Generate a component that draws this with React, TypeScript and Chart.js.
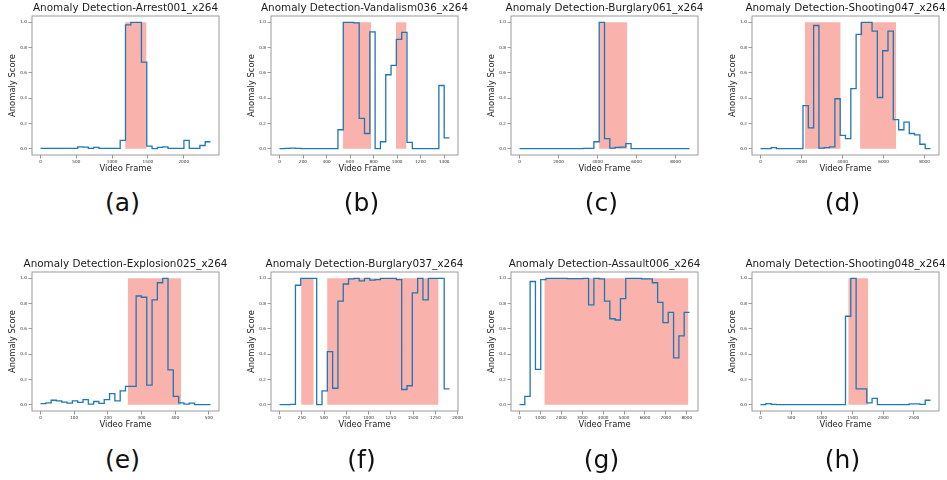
import React, { useEffect, useRef } from 'react';
import { Chart, registerables } from 'chart.js';

Chart.register(...registerables);
Chart.defaults.font.family = "'DejaVu Sans', sans-serif";

// ---- data ----
const titles = [
  'Anomaly Detection-Arrest001_x264',
  'Anomaly Detection-Vandalism036_x264',
  'Anomaly Detection-Burglary061_x264',
  'Anomaly Detection-Shooting047_x264',
  'Anomaly Detection-Explosion025_x264',
  'Anomaly Detection-Burglary037_x264',
  'Anomaly Detection-Assault006_x264',
  'Anomaly Detection-Shooting048_x264',
];
const panelLabels = ['(a)', '(b)', '(c)', '(d)', '(e)', '(f)', '(g)', '(h)'];
const frameCounts = [2374, 1445, 8720, 8290, 505, 1910, 8130, 2770];

// 32 segment scores per video
const scoresArrest001 = [0.002, 0.002, 0.002, 0.002, 0.002, 0.002, 0.003, 0.015, 0.012, 0.003, 0.01, 0.003, 0.002, 0.002, 0.002, 0.065, 0.98, 1.0, 1.0, 0.685, 0.02, 0.0, 0.01, 0.015, 0.002, 0.002, 0.002, 0.065, 0.002, 0.002, 0.025, 0.055];
const scoresVandalism036 = [0.0, 0.002, 0.004, 0.002, 0.0, 0.0, 0.0, 0.0, 0.0, 0.0, 0.0, 0.15, 1.0, 1.0, 0.995, 0.24, 0.12, 0.925, 0.0, 0.055, 0.585, 0.66, 0.865, 0.92, 0.05, 0.0, 0.0, 0.0, 0.0, 0.0, 0.5, 0.085];
const scoresBurglary061 = [0, 0, 0, 0, 0, 0, 0, 0, 0, 0, 0, 0, 0.002, 0.002, 0.055, 1.0, 0.08, 0.005, 0.01, 0.012, 0.04, 0, 0, 0, 0, 0, 0, 0, 0, 0, 0, 0];
const scoresShooting047 = [0.0, 0.0, 0.008, 0.0, 0.0, 0.0, 0.0, 0.0, 0.34, 0.165, 0.975, 0.005, 0.008, 0.015, 0.395, 0.105, 0.08, 0.475, 0.905, 1.0, 1.0, 0.93, 0.405, 0.775, 0.93, 0.23, 0.15, 0.21, 0.12, 0.11, 0.035, 0.0];
const scoresExplosion025 = [0.008, 0.015, 0.035, 0.03, 0.02, 0.012, 0.03, 0.018, 0.04, 0.005, 0.025, 0.01, 0.04, 0.088, 0.03, 0.11, 0.145, 0.145, 0.86, 0.85, 0.155, 0.83, 0.965, 1.0, 0.275, 0.065, 0.015, 0.005, 0.012, 0.0, 0.0, 0.0];
const scoresBurglary037 = [0.0, 0.0, 0.002, 0.945, 1.0, 1.0, 1.0, 0.0, 0.11, 0.42, 0.13, 0.82, 0.955, 0.995, 1.0, 0.98, 1.0, 0.985, 0.99, 1.0, 1.0, 1.0, 0.99, 0.12, 0.15, 0.885, 1.0, 0.83, 1.0, 1.0, 1.0, 0.125];
const scoresAssault006 = [0.0, 0.065, 0.975, 0.28, 0.99, 1.0, 1.0, 1.0, 1.0, 0.998, 0.998, 0.998, 1.0, 0.79, 1.0, 0.995, 0.82, 0.68, 0.67, 0.84, 1.0, 1.0, 1.0, 0.995, 0.995, 0.965, 0.81, 0.65, 0.73, 0.37, 0.545, 0.73];
const scoresShooting048 = [0.0, 0.008, 0.002, 0, 0, 0, 0, 0, 0, 0, 0, 0, 0, 0, 0, 0, 0.7, 1.0, 0.125, 0.125, 0.015, 0.05, 0.0, 0.0, 0.0, 0.0, 0.0, 0.0, 0.006, 0.006, 0.002, 0.035];

// ground-truth anomaly intervals (frames)
const spansArrest001 = [[1182, 1481]];
const spansVandalism036 = [[540, 778], [990, 1080]];
const spansBurglary061 = [[4085, 5532]];
const spansShooting047 = [[2167, 3910], [4855, 6615]];
const spansExplosion025 = [[259, 418]];
const spansBurglary037 = [[243, 385], [535, 1787]];
const spansAssault006 = [[1188, 8079]];
const spansShooting048 = [[1430, 1755]];

// tick labels
const xTicksArrest001 = [0, 500, 1000, 1500, 2000];
const xTicksVandalism036 = [0, 200, 400, 600, 800, 1000, 1200, 1400];
const xTicksBurglary061 = [0, 2000, 4000, 6000, 8000];
const xTicksShooting047 = [0, 2000, 4000, 6000, 8000];
const xTicksExplosion025 = [0, 100, 200, 300, 400, 500];
const xTicksBurglary037 = [0, 250, 500, 750, 1000, 1250, 1500, 1750, 2000];
const xTicksAssault006 = [0, 1000, 2000, 3000, 4000, 5000, 6000, 7000, 8000];
const xTicksShooting048 = [0, 500, 1000, 1500, 2000, 2500];
const yTicks = [0, 0.2, 0.4, 0.6, 0.8, 1.0];

const allScores = [scoresArrest001, scoresVandalism036, scoresBurglary061, scoresShooting047, scoresExplosion025, scoresBurglary037, scoresAssault006, scoresShooting048];
const allSpans = [spansArrest001, spansVandalism036, spansBurglary061, spansShooting047, spansExplosion025, spansBurglary037, spansAssault006, spansShooting048];
const allXTicks = [xTicksArrest001, xTicksVandalism036, xTicksBurglary061, xTicksShooting047, xTicksExplosion025, xTicksBurglary037, xTicksAssault006, xTicksShooting048];

// ---- layout ----
const COL_LEFT = [32, 271, 511, 752];
const ROW_TOP = [16, 272];
const FRAME_W = 187;
const Y_AXIS_W = 32;
const TITLE_H = 16;
const X_AXIS_H = 19;
const RIGHT_PAD = 30;
const CANVAS_W = Y_AXIS_W + FRAME_W + RIGHT_PAD;
const CANVAS_H = 174;
const LABEL_Y = [203, 460];
const TITLE_HALF_W = 120;

const LINE_COLOR = '#1f77b4';
const SPAN_COLOR = '#f9b2ac';
const AXIS_COLOR = '#9a9a9a';

const framePlugin = {
  id: 'frameBox',
  afterLayout(chart: any) {
    // centre the title over the plot frame and let it be wider than the frame
    const tb = chart.titleBlock;
    const ca = chart.chartArea;
    if (tb && ca) {
      const cx = (ca.left + ca.right) / 2;
      tb.left = cx - TITLE_HALF_W;
      tb.right = cx + TITLE_HALF_W;
      tb.width = TITLE_HALF_W * 2;
    }
  },
  afterDatasetsDraw(chart: any) {
    const { ctx, chartArea } = chart;
    ctx.save();
    ctx.strokeStyle = AXIS_COLOR;
    ctx.lineWidth = 1;
    ctx.strokeRect(chartArea.left, chartArea.top, chartArea.right - chartArea.left, chartArea.bottom - chartArea.top);
    ctx.restore();
  },
};

function Panel({ idx }: { idx: number }) {
  const ref = useRef<HTMLCanvasElement | null>(null);
  const col = idx % 4;
  const row = Math.floor(idx / 4);
  useEffect(() => {
    if (!ref.current) return;
    const n = frameCounts[idx];
    const scores = allScores[idx];
    const seg = n / scores.length;
    const points = scores.map((v, i) => ({ x: i * seg, y: v }));
    points.push({ x: n, y: scores[scores.length - 1] });
    const xTicks = allXTicks[idx];
    const datasets: any[] = [
      {
        data: points,
        borderColor: LINE_COLOR,
        borderWidth: 1.3,
        stepped: true,
        pointRadius: 0,
        fill: false,
        order: 0,
      },
      ...allSpans[idx].map(([s, e]) => ({
        data: [{ x: s, y: 1 }, { x: e, y: 1 }],
        borderWidth: 0,
        borderColor: 'rgba(0,0,0,0)',
        backgroundColor: SPAN_COLOR,
        fill: 'origin',
        pointRadius: 0,
        order: 1,
      })),
    ];
    const chart = new Chart(ref.current, {
      type: 'line',
      data: { datasets },
      options: {
        animation: false,
        responsive: false,
        events: [],
        layout: { padding: { left: 0, right: RIGHT_PAD, top: 0, bottom: 0 } },
        plugins: {
          legend: { display: false },
          tooltip: { enabled: false },
          title: {
            display: true,
            text: titles[idx],
            fullSize: false,
            color: '#1a1a1a',
            font: { size: 10.4, weight: 'normal', lineHeight: 1.2 },
            padding: { top: 2.5, bottom: 1.02 },
          },
        },
        scales: {
          x: {
            type: 'linear',
            min: -0.05 * n,
            max: 1.05 * n,
            afterBuildTicks: (s: any) => {
              s.ticks = xTicks.map((v) => ({ value: v }));
            },
            afterFit: (s: any) => {
              s.height = X_AXIS_H;
            },
            ticks: {
              autoSkip: false,
              maxRotation: 0,
              padding: 1,
              color: '#333',
              font: { size: 4.2 },
              callback: (v: any) => String(v),
            },
            grid: { drawOnChartArea: false, drawTicks: true, tickLength: 3.5, color: AXIS_COLOR },
            border: { display: false },
            title: {
              display: true,
              text: 'Video Frame',
              color: '#1a1a1a',
              font: { size: 8.4 },
              padding: { top: 0, bottom: 0 },
            },
          },
          y: {
            type: 'linear',
            min: -0.05,
            max: 1.05,
            afterBuildTicks: (s: any) => {
              s.ticks = yTicks.map((v) => ({ value: v }));
            },
            afterFit: (s: any) => {
              s.width = Y_AXIS_W;
            },
            ticks: {
              autoSkip: false,
              padding: 1.5,
              color: '#333',
              font: { size: 4.2 },
              callback: (v: any) => Number(v).toFixed(1),
            },
            grid: { drawOnChartArea: false, drawTicks: true, tickLength: 3.5, color: AXIS_COLOR },
            border: { display: false },
            title: {
              display: true,
              text: 'Anomaly Score',
              color: '#1a1a1a',
              font: { size: 8.4 },
              padding: { top: 7.3, bottom: 0 },
            },
          },
        },
      } as any,
      plugins: [framePlugin],
    });
    return () => chart.destroy();
  }, [idx]);

  const left = COL_LEFT[col] - Y_AXIS_W;
  const top = ROW_TOP[row] - TITLE_H;
  const labelCx = COL_LEFT[col] + FRAME_W / 2 - 3;
  return (
    <>
      <canvas
        ref={ref}
        width={CANVAS_W}
        height={CANVAS_H}
        style={{ position: 'absolute', left, top, width: CANVAS_W, height: CANVAS_H }}
      />
      <div
        style={{
          position: 'absolute',
          left: labelCx - 40,
          width: 80,
          top: LABEL_Y[row] - 15,
          height: 30,
          lineHeight: '30px',
          textAlign: 'center',
          fontFamily: "'DejaVu Sans', sans-serif",
          fontSize: 25,
          color: '#111',
        }}
      >
        {panelLabels[idx]}
      </div>
    </>
  );
}

export default function App() {
  return (
    <div
      style={{
        position: 'fixed',
        left: 0,
        top: 0,
        width: 947,
        height: 480,
        background: '#fff',
        overflow: 'hidden',
      }}
    >
      {titles.map((_, i) => (
        <Panel key={i} idx={i} />
      ))}
    </div>
  );
}
